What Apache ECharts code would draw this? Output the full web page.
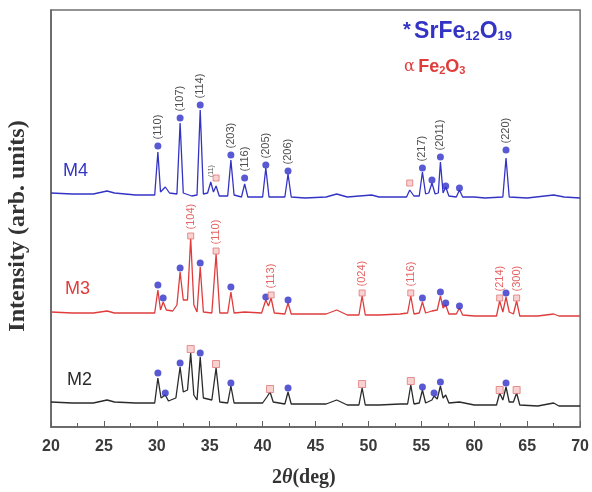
<!DOCTYPE html>
<html><head><meta charset="utf-8">
<script src="https://cdn.jsdelivr.net/npm/echarts@6/dist/echarts.min.js"></script>
<style>html,body{margin:0;padding:0;background:#fff}#c{width:592px;height:492px}</style>
</head><body><div id="c"></div>
<script>
// 2θ (deg) vs intensity (arb. units, stacked offsets)
const m4 = [[20,234],[22,233],[24,233],[25.3,236],[26,234],[28,232],[29.8,232],[30.1,275],[30.35,235],[30.8,240],[31.2,234],[31.9,233],[32.2,304],[32.5,234],[33.3,231],[33.8,232],[34.1,317],[34.4,233],[34.8,234],[35.1,245],[35.35,235],[35.6,241],[35.9,231],[36.7,231],[37.0,267],[37.3,232],[38.0,230],[38.3,243],[38.6,230],[40.0,230],[40.3,259],[40.6,230],[42.1,230],[42.4,253],[42.7,230],[44,229],[46,230],[47,233],[48,230],[50.3,232],[51,230],[53.6,230],[53.9,237],[54.3,231],[54.8,231],[55.1,255],[55.4,233],[55.7,234],[56.0,244],[56.3,233],[56.6,234],[56.8,265],[57.05,234],[57.3,240],[57.6,231],[58.3,230],[58.6,237],[58.9,230],[60,230],[61,229],[62.7,230],[63.0,269],[63.3,230],[65,229],[67.5,232],[68.5,230],[70,229]];
const m3 = [[20,115],[22,114],[24,114],[25.3,116],[26,114],[28,114],[29.8,114],[30.1,137],[30.35,117],[30.6,125],[30.9,117],[31.5,116],[31.9,122],[32.2,155],[32.5,127],[32.9,127],[33.2,189],[33.5,122],[33.8,115],[34.1,160],[34.4,115],[35.2,114],[35.6,173],[35.95,114],[36.7,114],[37.0,135],[37.3,114],[38.3,115],[39.9,114],[40.3,127],[40.55,121],[40.8,129],[41.1,114],[42.1,113],[42.4,124],[42.7,113],[44,113],[46,113],[47,117],[48,112],[49.1,112],[49.4,131],[49.7,112],[51,112],[53,113],[53.7,114],[54.0,131],[54.3,113],[54.8,114],[55.1,125],[55.4,114],[56,116],[56.5,117],[56.8,131],[57.05,119],[57.3,122],[57.6,113],[58.3,113],[58.6,119],[58.9,112],[60,111],[62.1,111],[62.4,126],[62.7,115],[63.0,130],[63.3,115],[63.7,113],[64.0,126],[64.3,111],[66,111],[67.5,113],[68,111],[70,111]];
const m2 = [[20,25],[22,24],[24,24],[25.3,27],[26,25],[28,24],[29.8,24],[30.1,49],[30.4,29],[30.8,32],[31.1,26],[31.8,29],[32.2,60],[32.5,35],[32.9,37],[33.2,74],[33.5,32],[33.8,27],[34.1,70],[34.4,29],[35.2,27],[35.6,59],[35.95,25],[36.7,24],[37.0,41],[37.3,24],[38.3,24],[40.0,24],[40.4,30],[40.7,35],[41.0,25],[42.1,23],[42.4,35],[42.7,23],[44,23],[46,23],[47,27],[48,22],[49.1,22],[49.4,39],[49.7,22],[51,22],[53,23],[53.7,23],[54.0,42],[54.3,23],[54.8,24],[55.1,37],[55.4,24],[56,27],[56.2,31],[56.5,28],[56.8,41],[57.05,29],[57.3,32],[57.6,24],[58.6,25],[60,22],[62.1,22],[62.4,34],[62.7,27],[63.0,40],[63.3,25],[63.7,25],[64.0,34],[64.3,22],[66,21],[67.5,24],[68,21],[70,21]];

// SrFe12O19 markers: [2θ, height, hkl label]
const m4Stars = [[30.1,281,'(110)'],[32.2,309,'(107)'],[34.1,322,'(114)'],[37.0,272,'(203)'],[38.3,249,'(116)'],[40.3,262,'(205)'],[42.4,256,'(206)'],[55.1,259,'(217)'],[56.0,247,''],[56.8,270,'(2011)'],[57.3,241,''],[58.6,239,''],[63.0,277,'(220)']];
const m4Extra = [[35.1,247,'(11)']];
const m4Sq = [[35.6,249],[53.9,244]];
const m3Stars = [[30.1,142],[30.6,129],[32.2,159],[34.1,164],[37.0,140],[40.3,130],[42.4,127],[55.1,129],[56.8,135],[57.3,124],[58.6,121],[63.0,134]];
// alpha-Fe2O3 markers: [2θ, height, hkl label]
const m3Sq = [[33.2,191,'(104)'],[35.6,176,'(110)'],[40.8,132,'(113)'],[49.4,134,'(024)'],[54.0,134,'(116)'],[62.4,129,'(214)'],[64.0,129,'(300)']];
const m2Stars = [[30.1,54],[30.8,34],[32.2,64],[34.1,74],[37.0,44],[42.4,39],[55.1,40],[56.2,34],[56.8,45],[63.0,44]];
const m2Sq = [[33.2,78],[35.6,63],[40.7,38],[49.4,43],[54.0,46],[62.4,37],[64.0,37]];
const xTicks = [20,25,30,35,40,45,50,55,60,65,70];

const BLUE = '#3434c4', RED = '#e03c3c', BLACK = '#2a2a2a';
const starStyle = {color: '#3030c8'};
const sqStyle = {color: '#f6c6c6', borderColor: '#e07878', borderWidth: 1};
const vlabel = (color) => ({show: true, position: 'top', distance: 3, rotate: 90, align: 'left', verticalAlign: 'middle',
  fontSize: 11, fontFamily: 'Arial', color: color, formatter: p => p.name});

function line(data, color) {
  return {type: 'line', data: data, symbol: 'none', lineStyle: {color: color, width: 1.3}, z: 2, animation: false};
}
function marks(arr, style, size, labelColor) {
  return {type: 'scatter', symbol: style === sqStyle ? 'rect' : 'circle', symbolSize: size,
    itemStyle: style, z: 5, animation: false,
    data: arr.map(d => ({value: [d[0], d[1]], name: d[2] || ''})),
    label: labelColor ? vlabel(labelColor) : {show: false}};
}

const chart = echarts.init(document.getElementById('c'), null, {renderer: 'canvas'});
chart.setOption({
  animation: false,
  grid: {left: 51, right: 7, top: 10, bottom: 65, show: true, borderColor: '#707070', borderWidth: 1.5},
  xAxis: {type: 'value', min: 20, max: 70, interval: 5,
    axisLine: {lineStyle: {color: '#606060', width: 1.5}},
    axisTick: {inside: true, length: 6, lineStyle: {color: '#606060'}},
    minorTick: {show: true, splitNumber: 2, length: 4, lineStyle: {color: '#606060'}},
    splitLine: {show: false},
    axisLabel: {fontSize: 16, fontWeight: 'bold', color: '#3a3a3a', fontFamily: 'Arial', margin: 12,
      formatter: v => xTicks.includes(v) ? String(v) : ''}},
  yAxis: {type: 'value', min: 0, max: 417, axisLine: {show: true, lineStyle: {color: '#606060', width: 1.5}},
    axisTick: {show: false}, axisLabel: {show: false}, splitLine: {show: false}},
  series: [
    line(m4, BLUE), line(m3, RED), line(m2, BLACK),
    marks(m4Stars, starStyle, 7, '#222'),
    {type: 'scatter', symbolSize: 0, data: m4Extra.map(d => ({value: [d[0], d[1]], name: d[2]})), label: Object.assign(vlabel('#222'), {fontSize: 7}), animation: false},
    marks(m4Sq, sqStyle, 6),
    marks(m3Stars, starStyle, 7),
    marks(m3Sq, sqStyle, 6, RED),
    marks(m2Stars, starStyle, 7),
    marks(m2Sq, sqStyle, 7)
  ],
  graphic: [
    {type: 'text', left: 63, top: 162, style: {text: 'M4', fill: BLUE, fontSize: 18, fontFamily: 'Arial'}},
    {type: 'text', left: 65, top: 280, style: {text: 'M3', fill: RED, fontSize: 18, fontFamily: 'Arial'}},
    {type: 'text', left: 67, top: 371, style: {text: 'M2', fill: BLACK, fontSize: 18, fontFamily: 'Arial'}},
    {type: 'text', left: 403, top: 20, style: {
      text: '{a|*} {b|SrFe}{s|12}{b|O}{s|19}', rich: {
        a: {fill: BLUE, fontSize: 20, fontWeight: 'bold', fontFamily: 'Arial', verticalAlign: 'top'},
        b: {fill: BLUE, fontSize: 23, fontWeight: 'bold', fontFamily: 'Arial'},
        s: {fill: BLUE, fontSize: 13, fontWeight: 'bold', fontFamily: 'Arial', padding: [10, 0, 0, 0]}}}},
    {type: 'text', left: 404, top: 58, style: {
      text: '{a|α} {b|Fe}{s|2}{b|O}{s|3}', rich: {
        a: {fill: RED, fontSize: 16, fontFamily: 'DejaVu Serif'},
        b: {fill: RED, fontSize: 18, fontWeight: 'bold', fontFamily: 'Arial'},
        s: {fill: RED, fontSize: 11, fontWeight: 'bold', fontFamily: 'Arial', padding: [8, 0, 0, 0]}}}},
    {type: 'text', left: 272, top: 468, style: {
      text: '{n|2}{t|θ}{n|(deg)}', rich: {
        n: {fill: '#333', fontSize: 20, fontWeight: 'bold', fontFamily: 'Liberation Serif'},
        t: {fill: '#333', fontSize: 20, fontWeight: 'bold', fontStyle: 'italic', fontFamily: 'Liberation Serif'}}}},
    {type: 'text', x: 18, y: 226, rotation: Math.PI / 2, style: {
      text: 'Intensity (arb. units)', fill: '#333', fontSize: 24, fontWeight: 'bold', fontFamily: 'Liberation Serif',
      textAlign: 'center', textVerticalAlign: 'middle'}, originX: 0, originY: 0}
  ]
});
</script></body></html>
